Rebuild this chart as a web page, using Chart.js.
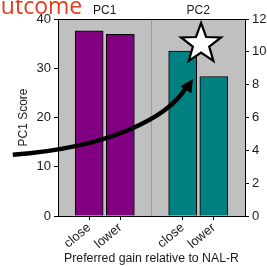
<!DOCTYPE html>
<html>
<head>
<meta charset="utf-8">
<script src="https://cdn.jsdelivr.net/npm/chart.js@4"></script>
<style>
html,body{margin:0;padding:0;background:#fff;overflow:hidden;}
canvas{display:block;}
</style>
</head>
<body>
<canvas id="c" width="267" height="266"></canvas>
<script>
// ---- data ----
const categories = ['close', 'lower', 'close', 'lower'];
const categoryPositions = [1, 2, 4, 5];
const groupLabels = ['PC1', '', 'PC2'];
const groupPositions = [1.5, 3, 4.5];
const pc1Values = [37.6, 36.9];
const pc2Values = [10.05, 8.5];
const leftTicks = [0, 10, 20, 30, 40];
const rightTicks = [0, 2, 4, 6, 8, 10, 12];

const FONT = "'Liberation Sans', Arial, sans-serif";
const TXT = '#1a1a1a';

const bgPlugin = {
  id: 'bg',
  beforeDraw(chart) {
    const {ctx, chartArea: a} = chart;
    ctx.save();
    ctx.fillStyle = '#c0c0c0';
    ctx.fillRect(a.left, a.top, a.right - a.left, a.bottom - a.top);
    ctx.restore();
  }
};

const annotPlugin = {
  id: 'annot',
  afterDraw(chart) {
    const ctx = chart.ctx;
    const sx = chart.scales.x, sy2 = chart.scales.y2;
    ctx.save();
    ctx.fillStyle = '#e43d1c';
    ctx.font = "23px 'Open Sans', sans-serif";
    ctx.textBaseline = 'alphabetic';
    ctx.fillText('outcome', -13, 14);
    ctx.restore();

    ctx.save();
    ctx.translate(272, 117);
    ctx.rotate(Math.PI / 2);
    ctx.fillStyle = TXT;
    ctx.font = "12px " + FONT;
    ctx.textAlign = 'center';
    ctx.textBaseline = 'middle';
    ctx.fillText('PC2 Score', 0, 0);
    ctx.restore();

    const px = v => sx.getPixelForValue(v);
    const py = v => sy2.getPixelForValue(v);
    const P0 = [px(-1.45), py(3.73)];
    const P1 = [px(1.67), py(4.17)];
    const P2 = [px(3.53), py(6.0)];
    const P3 = [px(4.1), py(7.8)];
    const tip = [px(4.33), py(8.35)];
    ctx.save();
    ctx.strokeStyle = '#000';
    ctx.lineWidth = 4.5;
    ctx.beginPath();
    ctx.moveTo(P0[0], P0[1]);
    ctx.bezierCurveTo(P1[0], P1[1], P2[0], P2[1], P3[0], P3[1]);
    ctx.stroke();
    const dx = tip[0] - P2[0], dy = tip[1] - P2[1];
    const L = Math.hypot(dx, dy);
    const ux = dx / L, uy = dy / L;
    const len = 13, hw = 6.5;
    const bx = tip[0] - ux * len, by = tip[1] - uy * len;
    ctx.fillStyle = '#000';
    ctx.beginPath();
    ctx.moveTo(tip[0], tip[1]);
    ctx.lineTo(bx - uy * hw, by + ux * hw);
    ctx.lineTo(bx + uy * hw, by - ux * hw);
    ctx.closePath();
    ctx.fill();
    ctx.restore();

    const cx = px(4.59), cy = py(10.48);
    const R = 21, r = 8.6;
    ctx.save();
    ctx.beginPath();
    for (let i = 0; i < 10; i++) {
      const ang = -Math.PI / 2 + i * Math.PI / 5;
      const rad = i % 2 === 0 ? R : r;
      const X = cx + rad * Math.cos(ang), Y = cy + rad * Math.sin(ang);
      if (i === 0) ctx.moveTo(X, Y); else ctx.lineTo(X, Y);
    }
    ctx.closePath();
    ctx.fillStyle = '#fff';
    ctx.fill();
    ctx.lineWidth = 2.2;
    ctx.strokeStyle = '#000';
    ctx.stroke();
    ctx.restore();
  }
};

new Chart(document.getElementById('c'), {
  type: 'bar',
  data: {
    datasets: [
      {
        label: 'PC1',
        data: pc1Values.map((v, i) => ({x: categoryPositions[i], y: v})),
        xAxisID: 'x', yAxisID: 'y',
        backgroundColor: '#800080', borderColor: '#000', borderWidth: 1,
        barThickness: 28, grouped: false
      },
      {
        label: 'PC2',
        data: pc2Values.map((v, i) => ({x: categoryPositions[i + 2], y: v})),
        xAxisID: 'x', yAxisID: 'y2',
        backgroundColor: '#008080', borderColor: '#000', borderWidth: 1,
        barThickness: 28, grouped: false
      }
    ]
  },
  options: {
    responsive: false,
    animation: false,
    layout: {padding: 0},
    plugins: {legend: {display: false}, tooltip: {enabled: false}, title: {display: false}},
    scales: {
      x: {
        type: 'linear', position: 'bottom', min: 0, max: 6, offset: false,
        afterBuildTicks: s => { s.ticks = categoryPositions.map(v => ({value: v})); },
        afterFit: s => { s.height = 50; },
        ticks: {
          callback: (v) => { const i = categoryPositions.indexOf(v); return i >= 0 ? categories[i] : ''; },
          minRotation: 40, maxRotation: 40, autoSkip: false,
          color: TXT, font: {family: FONT, size: 13}, padding: 0
        },
        grid: {drawOnChartArea: false, color: '#000', tickLength: 4, offset: false},
        border: {display: true, color: '#000', width: 1},
        title: {display: true, text: 'Preferred gain relative to NAL-R', color: TXT,
                font: {family: FONT, size: 12.3}, padding: {top: 0, bottom: 0}}
      },
      x2: {
        type: 'linear', position: 'top', min: 0, max: 6, offset: false,
        afterBuildTicks: s => { s.ticks = groupPositions.map(v => ({value: v})); },
        afterFit: s => { s.height = 19; },
        ticks: {
          callback: (v) => { const i = groupPositions.indexOf(v); return i >= 0 ? groupLabels[i] : ''; },
          maxRotation: 0, autoSkip: false, color: TXT, font: {family: FONT, size: 12}, padding: 1
        },
        grid: {
          drawTicks: false, offset: false,
          color: c => (c.tick && c.tick.value === 3) ? '#9a9a9a' : 'rgba(0,0,0,0)',
          lineWidth: 1
        },
        border: {display: true, color: '#000', width: 1}
      },
      y: {
        type: 'linear', position: 'left', min: 0, max: 40,
        afterBuildTicks: s => { s.ticks = leftTicks.map(v => ({value: v})); },
        afterFit: s => { s.width = 58; },
        ticks: {color: TXT, font: {family: FONT, size: 13}, padding: 3},
        grid: {drawOnChartArea: false, color: '#000', tickLength: 4},
        border: {display: true, color: '#000', width: 1},
        title: {display: true, text: 'PC1 Score', color: TXT, font: {family: FONT, size: 12}, padding: {top: 16, bottom: 0}}
      },
      y2: {
        type: 'linear', position: 'right', min: 0, max: 12,
        afterBuildTicks: s => { s.ticks = rightTicks.map(v => ({value: v})); },
        afterFit: s => { s.width = 22; },
        ticks: {color: TXT, font: {family: FONT, size: 13}, padding: 3},
        grid: {drawOnChartArea: false, color: '#000', tickLength: 4},
        border: {display: true, color: '#000', width: 1}
      }
    }
  },
  plugins: [bgPlugin, annotPlugin]
});
</script>
</body>
</html>
